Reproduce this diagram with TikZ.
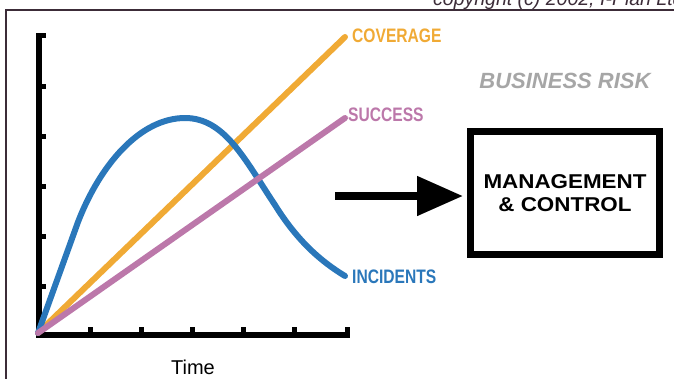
\documentclass[tikz,border=0pt]{standalone}
\usepackage{fontspec}
\setmainfont{Liberation Sans}
\newfontfamily\condfont[FakeStretch=0.8]{Liberation Sans}
\newfontfamily\boxfont[FakeStretch=1.12]{Liberation Sans}
\usetikzlibrary{arrows.meta}
\definecolor{covcol}{HTML}{F0AA35}
\definecolor{succol}{HTML}{BC78AA}
\definecolor{inccol}{HTML}{2A77BA}
\definecolor{framecol}{HTML}{3C2C38}
\definecolor{riskcol}{HTML}{A6A6A6}

\begin{document}
\begin{tikzpicture}[x=1pt,y=-1pt,
    curve/.style ={line width=6pt, line cap=round},
    axis/.style ={line width=6pt},
    tick/.style ={line width=5pt},
    curvelabel/.style ={anchor=base west, inner sep=0pt, font=\condfont\bfseries\fontsize{19.5}{20}\selectfont}]
   \useasboundingbox (0,0) rectangle (674,378);

   \draw[framecol, line width=2pt] (6,390) -- (6,10) -- (690,10);
   \node[anchor=base west, inner sep=0pt, framecol, font=\itshape\fontsize{19.5}{20}\selectfont] (copy) at (433,5) {copyright (c) 2002, I-Plan Ltd};

   \coordinate (O)   at (38,333);
   \coordinate (ytop) at (38.5,33);
   \coordinate (xend) at (350,334.5);

   \draw[axis] (ytop) -- (ytop |- xend) -- (xend);
   \draw[tick] (38.5,35.5) -- (46,35.5);
   \draw[tick] (38.5,86) -- (46,86);
   \draw[tick] (38.5,136) -- (46,136);
   \draw[tick] (38.5,186) -- (46,186);
   \draw[tick] (38.5,236) -- (46,236);
   \draw[tick] (38.5,286) -- (46,286);
   \draw[tick] (90,334.5) -- (90,327);
   \draw[tick] (141,334.5) -- (141,327);
   \draw[tick] (192,334.5) -- (192,327);
   \draw[tick] (243,334.5) -- (243,327);
   \draw[tick] (294,334.5) -- (294,327);
   \draw[tick] (347.5,334.5) -- (347.5,327);

   \node[curvelabel, covcol] (cov) at (352,42)  {COVERAGE};
   \node[curvelabel, succol] (suc) at (348,121) {SUCCESS};
   \node[curvelabel, inccol] (inc) at (352,283) {INCIDENTS};

   \coordinate (covend) at (345,37);
   \coordinate (sucend) at (345,118);
   \coordinate (incend) at (345,276);

   \draw[curve, covcol] (O) -- (covend);
   \draw[curve, inccol, line join=round] (O) -- (78,222) .. controls (100,165) and (140,118) .. (185,118)
        .. controls (225,118) and (245,160) .. (275,205) .. controls (298,242) and (322,262) .. (incend);
   \draw[curve, succol] (O) -- (sucend);

   \node[font=\bfseries\itshape\fontsize{22}{24}\selectfont, riskcol, anchor=base] (risk) at (565,88) {BUSINESS RISK};

   \node[draw, line width=7pt, minimum width=189pt, minimum height=123pt, inner sep=0pt, align=center,
         font=\boxfont\bfseries\fontsize{20}{23}\selectfont] (mc) at (565,193) {MANAGEMENT\\\& CONTROL};

   \coordinate (arrstart) at (335,196);
   \draw[line width=8pt, -{Triangle[length=46pt, width=38pt]}, shorten >=4pt] (arrstart) -- (arrstart -| mc.west);

   \node[anchor=base, inner sep=0pt, font=\fontsize{20}{22}\selectfont] (time) at (193,374) {Time};
 \end{tikzpicture}
\end{document}
